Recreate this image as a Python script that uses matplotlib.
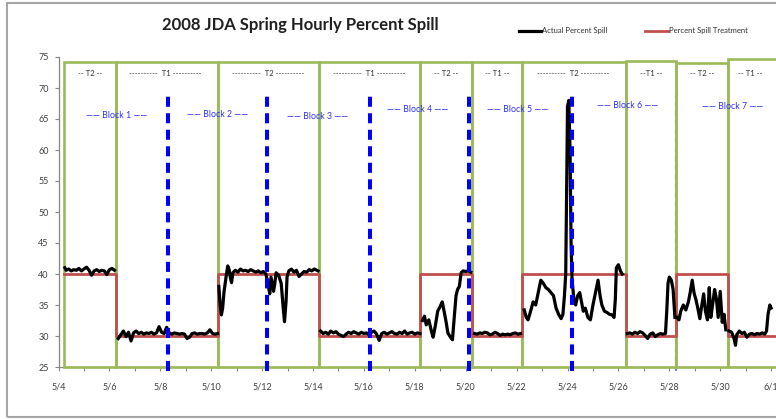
import matplotlib
matplotlib.use("Agg")
import matplotlib.pyplot as plt
from matplotlib.patches import Rectangle
import numpy as np

plt.rcParams['font.family'] = ['Lato', 'DejaVu Sans']

# ---------------- data (x = day of May; 32 = June 1) ----------------
title = "2008 JDA Spring Hourly Percent Spill"
tick_days = [4, 6, 8, 10, 12, 14, 16, 18, 20, 22, 24, 26, 28, 30, 32]
tick_labels = ["5/4", "5/6", "5/8", "5/10", "5/12", "5/14", "5/16", "5/18",
               "5/20", "5/22", "5/24", "5/26", "5/28", "5/30", "6/1"]

# treatment periods (box edges) and treatment percent spill
period_edges = [4.22, 6.26, 10.27, 14.24, 18.21, 20.25, 22.21, 26.30, 28.27, 30.30, 33.5]
treatment_pct = [40, 30, 40, 30, 40, 30, 40, 30, 40, 30]
period_labels = ["-- T2 --", "----------  T1 ----------", "----------  T2 ----------",
                 "----------  T1 ----------", "-- T2 --", "-- T1 --",
                 "----------  T2 ----------", "--T1 --", "-- T2 --", "-- T1 --"]
period_label_x = [90.5, 165, 268, 369, 446, 497, 573, 651, 702, 750]  # px helpers converted below
box_tops = [74.2, 74.2, 74.2, 74.2, 74.2, 74.2, 74.2, 74.4, 74.1, 74.6]

block_labels = ["Block 1", "Block 2", "Block 3", "Block 4", "Block 5", "Block 6", "Block 7"]
block_label_day = [6.3, 10.27, 14.2, 18.1, 22.05, 26.35, 30.5]
block_label_y = [65.6, 65.8, 65.4, 66.5, 66.5, 67.1, 67.0]
block_divider_day = [8.29, 12.18, 16.24, 20.14, 24.16, 28.27]

# actual hourly percent spill, one array pair per period
p1_day = [4.25, 4.3, 4.4, 4.5, 4.6, 4.7, 4.8, 4.9, 5.0, 5.1, 5.2, 5.3, 5.4, 5.5, 5.6, 5.7, 5.8, 5.9, 6.0, 6.1, 6.2]
p1_pct = [41.0, 40.6, 40.8, 40.5, 40.7, 40.6, 40.9, 40.5, 40.8, 41.1, 40.6, 39.8, 40.5, 40.7, 40.4, 40.6, 40.5, 39.9, 40.7, 40.9, 40.6]

p2_day = [6.35, 6.45, 6.55, 6.65, 6.75, 6.85, 6.95, 7.05, 7.15, 7.25, 7.35, 7.45, 7.55, 7.65, 7.75, 7.85, 7.95,
          8.05, 8.15, 8.25, 8.35, 8.45, 8.55, 8.65, 8.75, 8.85, 8.95, 9.05, 9.15, 9.25, 9.35, 9.45, 9.55,
          9.65, 9.75, 9.85, 9.95, 10.05, 10.15, 10.25]
p2_pct = [29.6, 30.2, 30.8, 29.9, 30.6, 29.2, 30.5, 30.8, 30.4, 30.6, 30.3, 30.5, 30.4, 30.6, 30.3, 30.5, 31.5,
          30.6, 30.4, 31.4, 30.5, 30.3, 30.5, 30.4, 30.3, 30.4, 30.3, 29.6, 29.8, 30.4, 30.5, 30.3, 30.4,
          30.4, 30.3, 30.5, 31.0, 30.4, 30.3, 30.4]

p3_day = [10.3, 10.35, 10.4, 10.45, 10.5, 10.55, 10.6, 10.65, 10.7, 10.75, 10.8, 10.85, 10.95, 11.05, 11.15,
          11.25, 11.35, 11.45, 11.55, 11.65, 11.75, 11.85, 11.95, 12.05, 12.15, 12.25, 12.3, 12.35, 12.45,
          12.5, 12.55, 12.65, 12.75, 12.82, 12.88, 12.94, 12.98, 13.05, 13.15, 13.25, 13.35, 13.45, 13.55,
          13.65, 13.75, 13.85, 13.95, 14.05, 14.15, 14.2]
p3_pct = [38.0, 35.0, 33.4, 34.5, 37.0, 38.5, 40.0, 41.3, 40.8, 39.5, 38.6, 40.2, 40.6, 40.3, 40.8,
          40.5, 40.6, 40.4, 40.7, 40.5, 40.3, 40.5, 40.2, 40.4, 40.0, 38.0, 36.8, 39.5, 37.2,
          38.5, 40.2, 39.8, 38.5, 35.0, 32.3, 35.5, 39.5, 40.5, 40.8, 40.3, 40.6, 39.6, 40.0,
          40.4, 40.3, 40.7, 40.5, 40.8, 40.6, 40.5]

p4_day = [14.3, 14.4, 14.5, 14.6, 14.7, 14.8, 14.9, 15.0, 15.1, 15.2, 15.3, 15.4, 15.5, 15.6, 15.7, 15.8,
          15.9, 16.0, 16.1, 16.2, 16.3, 16.4, 16.5, 16.6, 16.7, 16.8, 16.9, 17.0, 17.1, 17.2, 17.3, 17.4,
          17.5, 17.6, 17.7, 17.8, 17.9, 18.0, 18.1, 18.2]
p4_pct = [30.8, 30.4, 30.6, 30.3, 30.8, 30.5, 30.7, 30.3, 30.1, 29.9, 30.3, 30.6, 30.4, 30.7, 30.5, 30.3,
          30.6, 30.4, 30.5, 30.2, 30.6, 30.8, 30.3, 29.3, 30.4, 30.6, 30.3, 30.5, 30.7, 30.4, 30.3, 30.6,
          30.4, 30.8, 30.3, 30.5, 30.6, 30.3, 30.5, 30.4]

p5_day = [18.3, 18.38, 18.45, 18.55, 18.65, 18.72, 18.8, 18.9, 19.0, 19.08, 19.15, 19.22, 19.3, 19.4,
          19.48, 19.55, 19.62, 19.68, 19.75, 19.82, 19.9, 20.0, 20.1, 20.2]
p5_pct = [32.5, 33.2, 31.8, 32.6, 30.8, 29.8, 31.5, 34.0, 34.8, 35.5, 34.0, 32.5, 30.5, 29.8,
          29.4, 33.0, 36.5, 37.5, 38.0, 40.2, 40.5, 40.4, 40.5, 40.3]

p6_day = [20.35, 20.45, 20.55, 20.65, 20.75, 20.85, 20.95, 21.05, 21.15, 21.25, 21.35, 21.45, 21.55,
          21.65, 21.75, 21.85, 21.95, 22.05, 22.15]
p6_pct = [30.4, 30.3, 30.5, 30.4, 30.6, 30.5, 30.2, 30.3, 30.6, 30.4, 30.1, 30.3, 30.2,
          30.3, 30.2, 30.4, 30.5, 30.3, 30.4]

p7_day = [22.3, 22.38, 22.45, 22.55, 22.65, 22.75, 22.85, 22.95, 23.05, 23.15, 23.25, 23.35, 23.45,
          23.55, 23.65, 23.75, 23.82, 23.88, 23.93, 23.97, 24.0, 24.05, 24.1, 24.14, 24.18, 24.25,
          24.32, 24.4, 24.48, 24.55, 24.62, 24.7, 24.8, 24.9, 25.0, 25.1, 25.2, 25.28, 25.35, 25.45,
          25.55, 25.65, 25.75, 25.83, 25.88, 25.92, 26.0, 26.08, 26.15]
p7_pct = [34.2, 33.0, 32.6, 34.0, 35.5, 35.0, 37.0, 39.0, 38.5, 37.8, 37.5, 37.0, 36.5,
          34.5, 33.5, 32.8, 33.5, 36.5, 40.0, 55.0, 67.0, 68.0, 60.0, 45.0, 39.0, 36.0,
          35.0, 36.5, 37.0, 35.5, 34.0, 34.5, 33.0, 32.6, 35.0, 37.0, 39.0, 36.5, 35.0, 34.0,
          33.8, 33.5, 33.4, 33.0, 36.0, 41.0, 41.5, 40.5, 40.0]

p8_day = [26.35, 26.45, 26.55, 26.65, 26.75, 26.85, 26.95, 27.05, 27.15, 27.25, 27.35, 27.45, 27.55,
          27.65, 27.75, 27.85, 27.9, 27.95, 28.0, 28.08, 28.15, 28.22]
p8_pct = [30.4, 30.5, 30.3, 30.6, 30.4, 30.7, 30.5, 30.1, 29.6, 30.3, 30.5, 29.9, 30.2,
          30.4, 30.3, 30.4, 34.0, 38.5, 39.5, 39.0, 37.5, 33.0]

p9_day = [28.3, 28.38, 28.45, 28.55, 28.65, 28.75, 28.82, 28.9, 28.97, 29.05, 29.12, 29.2, 29.28,
          29.35, 29.42, 29.5, 29.57, 29.63, 29.7, 29.78, 29.85, 29.92, 30.0, 30.08, 30.15, 30.22]
p9_pct = [33.0, 32.6, 34.0, 35.0, 34.2, 35.5, 37.0, 39.0, 37.0, 35.8, 34.5, 32.8, 35.0,
          36.8, 34.0, 32.6, 37.8, 33.0, 35.0, 37.5, 36.0, 33.0, 37.2, 32.2, 33.5, 31.0]

p10_day = [30.35, 30.45, 30.55, 30.6, 30.65, 30.75, 30.85, 30.95, 31.05, 31.15, 31.25, 31.35, 31.45,
           31.55, 31.65, 31.75, 31.82, 31.88, 31.95, 32.0]
p10_pct = [30.8, 30.6, 29.5, 28.5, 30.2, 30.8, 30.4, 30.6, 29.8, 30.3, 30.4, 30.2, 30.4,
           30.3, 30.5, 30.3, 30.8, 33.5, 35.0, 34.5]

actual_segments = [(p1_day, p1_pct), (p2_day, p2_pct), (p3_day, p3_pct), (p4_day, p4_pct),
                   (p5_day, p5_pct), (p6_day, p6_pct), (p7_day, p7_pct), (p8_day, p8_pct),
                   (p9_day, p9_pct), (p10_day, p10_pct)]

# ---------------- figure ----------------
W, H = 776, 419
fig = plt.figure(figsize=(W / 100, H / 100), dpi=100)

x0_px, px_per_day = 58.5, 25.45
xmin, xmax = 4, 33
ax = fig.add_axes([x0_px / W, 1 - 367 / H, (xmax - xmin) * px_per_day / W, (367 - 57) / H])
ax.set_xlim(xmin, xmax)
ax.set_ylim(25, 75)

def px2day(px):
    return xmin + (px - x0_px) / px_per_day

green = '#9BBB59'
red = '#C0504D'
blue = '#0000FF'

# green treatment boxes
for i in range(len(treatment_pct)):
    l, r = period_edges[i], period_edges[i + 1]
    ax.add_patch(Rectangle((l, 25), r - l, box_tops[i] - 25, fill=False, edgecolor=green,
                           lw=1.9, zorder=5, clip_on=False))
    ax.text(px2day(period_label_x[i]), 72.4, period_labels[i], ha='center', va='center',
            fontsize=5.5, color='#303030', zorder=5)

# block dividers (blue dashed)
for i, d in enumerate(block_divider_day):
    top = 69.4 if i == 4 else 68.9
    last = (i == len(block_divider_day) - 1)
    ax.plot([d, d], [24.3, top], color=blue, lw=(1.6 if last else 2.9),
            dashes=(2.5, 1.6), zorder=(4 if last else 8), alpha=(0.5 if last else 1),
            solid_capstyle='butt', dash_capstyle='butt', clip_on=False)

for lab, d, y in zip(block_labels, block_label_day, block_label_y):
    ax.text(d, y, "—— " + lab + " ——", ha='center', va='center', fontsize=6.3,
            color='#2F2FFF', zorder=5)

# treatment step line
tx = period_edges[:-1] + [period_edges[-1]]
ty = treatment_pct + [treatment_pct[-1]]
ax.step(tx, ty, where='post', color=red, lw=2.0, zorder=6)

# actual percent spill
for d, v in actual_segments:
    ax.plot(d, v, color='black', lw=2.3, zorder=7, solid_joinstyle='round')

# axes styling
for s in ['top', 'right']:
    ax.spines[s].set_visible(False)
for s in ['left', 'bottom']:
    ax.spines[s].set_color('#868686')
    ax.spines[s].set_linewidth(0.9)
ax.set_yticks(range(25, 80, 5))
ax.set_xticks(tick_days)
ax.set_xticklabels(tick_labels)
ax.set_xticks(range(4, 33), minor=True)
ax.tick_params(axis='both', which='both', direction='out', length=3, width=0.8,
               color='#868686', labelsize=6.5, labelcolor='#404040', pad=4)
ax.tick_params(axis='x', pad=8)

# title
fig.text(300 / W, 1 - 25 / H, title, ha='center', va='center', fontsize=12,
         fontweight='bold', color='#202020')

# legend (manual, top-right)
ly = 1 - 31 / H
fig.add_artist(plt.Line2D([519 / W, 541 / W], [ly, ly], color='black', lw=2.3))
fig.text(542 / W, ly, "Actual Percent Spill", ha='left', va='center', fontsize=5.5, color='#303030')
fig.add_artist(plt.Line2D([645 / W, 668 / W], [ly, ly], color=red, lw=2.0))
fig.text(669 / W, ly, "Percent Spill Treatment", ha='left', va='center', fontsize=5.5, color='#303030')

# chart-area border
fig.add_artist(Rectangle((7 / W, 1 - 417 / H), 900 / W, (417 - 3) / H, transform=fig.transFigure,
                         fill=False, edgecolor='#A6A6A6', lw=1.5))

fig.savefig('out.png', dpi=100)
